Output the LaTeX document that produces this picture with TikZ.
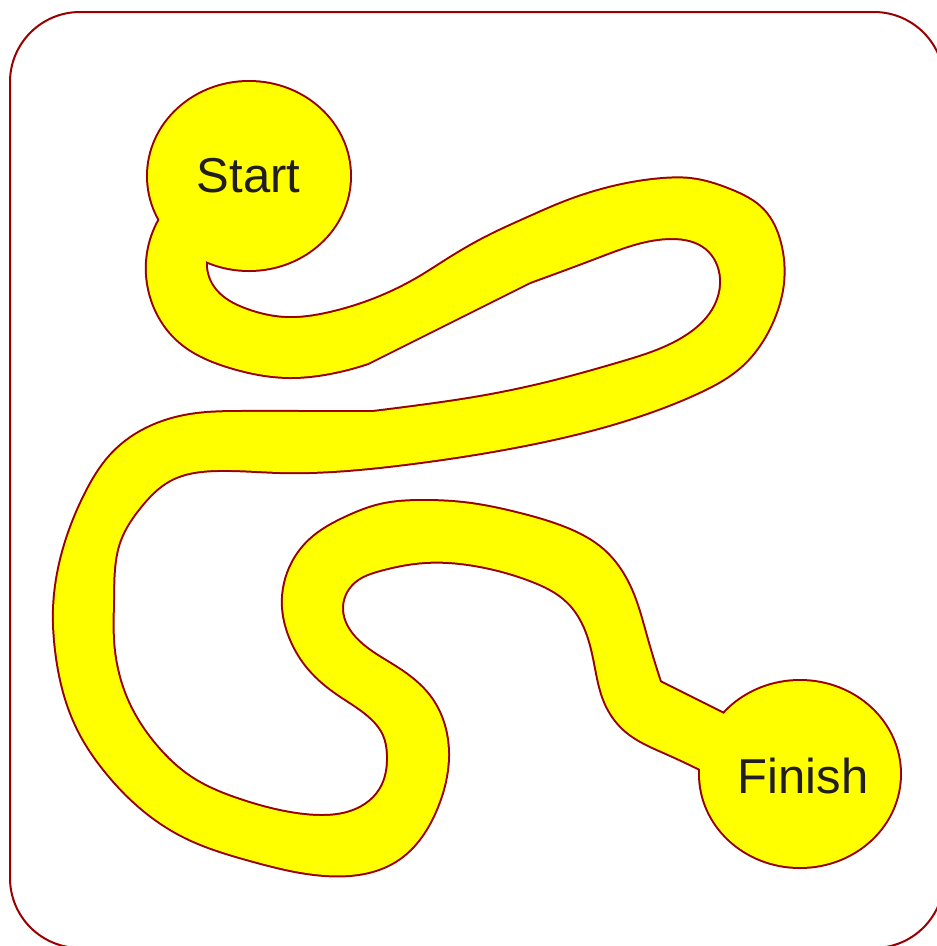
\documentclass[tikz,border=0pt]{standalone}
\usepackage{fontspec}
\setmainfont{Liberation Sans}
\usetikzlibrary{hobby}
\definecolor{edge}{RGB}{153,0,0}
\definecolor{trail}{RGB}{255,255,0}
\definecolor{ink}{RGB}{34,30,31}
\begin{document}
\begin{tikzpicture}[x=1pt,y=-1pt,
  outline/.style={draw=edge,line width=4pt},
  filling/.style={fill=trail},
  lbl/.style={text=ink,font=\fontsize{49pt}{58pt}\selectfont,anchor=base,inner sep=0pt}]
\useasboundingbox (0,0) rectangle (937,946);
\fill[white] (0,0) rectangle (937,946);
\draw[edge,line width=2pt,rounded corners=70pt] (10,12) rectangle (944,948);
\def\trailshape{
  (160,219) .. (147,262) .. (152,300) .. (180,342) .. (230,367) .. (290,377) .. (330,373) .. (368,363)
  -- (530,282)
  .. (600,256) .. (672,238) .. (706,248) .. (721,278) .. (713,310) .. (685,337) .. (620,363) .. (547,383) .. (480,397) .. (420,406) .. (373,412)
  -- (300,412) .. (240,412) .. (197,414) .. (150,427) .. (113,453) .. (85,495) .. (65,545) .. (54,610) .. (56,650) .. (64,692) .. (80,733) .. (107,773) .. (140,807) .. (185,837) .. (250,860) .. (325,875) .. (397,860) .. (437,807) .. (448,753) .. (430,697) .. (397,668) .. (358,641) .. (342,610) .. (354,582) .. (380,570) .. (425,562) .. (480,566) .. (530,580) .. (568,602) .. (586,630) .. (595,663) .. (605,702) .. (626,731) .. (666,753) .. (706,772)
  -- (740,722) -- (660,682)
  .. (646,636) .. (632,592) .. (603,550) .. (565,528) .. (520,514) .. (463,503) .. (423,501) .. (380,505) .. (347,517) .. (310,540) .. (293,562) .. (283,607) .. (290,637) .. (306,665) .. (335,692) .. (368,715) .. (384,735) .. (388,755) .. (380,790) .. (347,813) .. (320,816) .. (290,813) .. (240,800) .. (190,777) .. (157,747) .. (127,700) .. (113,640) .. (113,600) .. (120,540) .. (140,507) .. (170,480) .. (217,470) .. (280,472) .. (347,470) .. (413,463) .. (520,446) .. (647,413) .. (697,393) .. (740,367) .. (773,320) .. (783,283) .. (780,243) .. (763,210) .. (730,190) .. (690,179) .. (663,179) .. (613,187) .. (560,204) .. (530,217) .. (487,237) .. (447,260) .. (420,277) .. (380,297) .. (330,313) .. (285,318) .. (247,310) .. (213,287) .. (206,260)
  -- (206,248) -- (168,205) -- cycle}
% outlines first
\path[outline,use Hobby shortcut] \trailshape;
\path[outline] (249,176) ellipse [x radius=101pt, y radius=94pt];
\path[outline] (800,774) ellipse [x radius=100pt, y radius=93pt];
% fills on top
\path[filling,use Hobby shortcut] \trailshape;
\path[filling] (249,176) ellipse [x radius=101pt, y radius=94pt];
\path[filling] (800,774) ellipse [x radius=100pt, y radius=93pt];
\node[lbl] (start) at (248.5,192.5) {Start};
\node[lbl] (finish) at (803,793) {Finish};
\end{tikzpicture}
\end{document}
